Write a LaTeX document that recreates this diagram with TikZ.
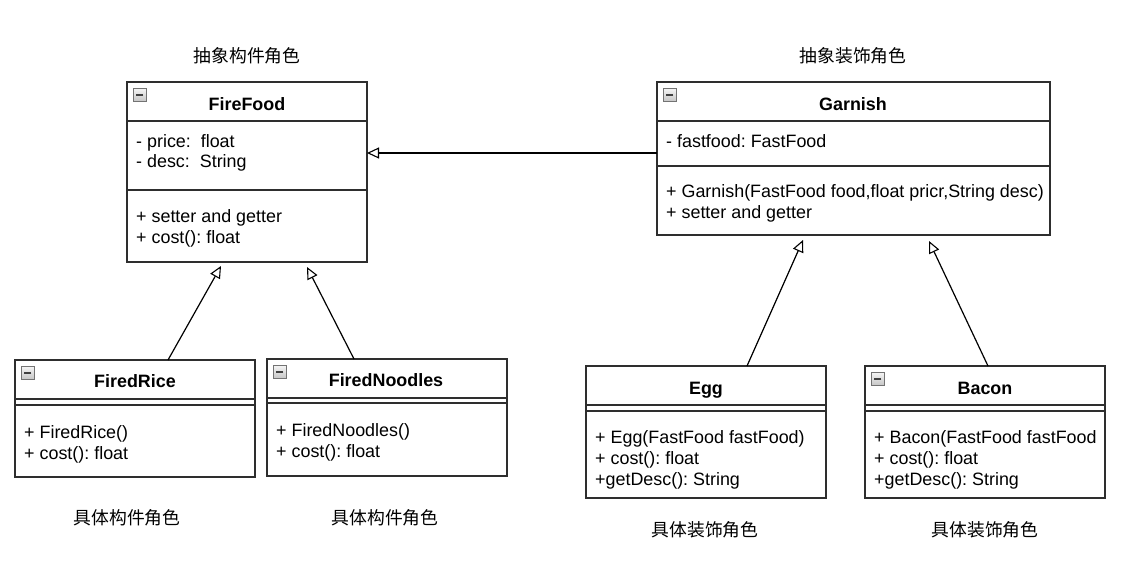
\documentclass[tikz,border=0pt]{standalone}
\usepackage{fontspec}
\setmainfont{Liberation Sans}
\newfontfamily\cjk{Noto Sans CJK SC}
\usetikzlibrary{arrows.meta}
\frenchspacing
\tikzset{
  cls/.style={draw=black!82, line width=1.3pt, anchor=north west, inner sep=0pt, outer sep=0pt},
  sepline/.style={draw=black!82, line width=1.3pt},
  txt/.style={anchor=base west, inner sep=0pt, font=\fontsize{17.9}{20}\selectfont},
  ttl/.style={anchor=base, inner sep=0pt, font=\fontsize{17.9}{20}\selectfont\bfseries},
  role/.style={inner sep=0pt, font=\cjk\fontsize{17.8}{20}\selectfont},
  inh/.style={draw=black, line width=1.2pt, -{Triangle[open, fill=white, length=12pt, width=11pt, line width=1.1pt]}},
  icon/.style={draw=black!55, line width=0.7pt, top color=gray!8, bottom color=gray!45, minimum size=13pt, inner sep=0pt, anchor=north west},
}
\newcommand{\collapseicon}[2]{%
  \node[icon] (#2) at #1 {};
  \draw[line width=1.6pt, black!75] ([xshift=3.5pt]#2.center) -- ([xshift=-3.5pt]#2.center);
}
\begin{document}
\begin{tikzpicture}[x=1pt, y=-1pt]
\useasboundingbox[fill=white] (0,0) rectangle (1132,574);

% ---------- FireFood ----------
\node[cls, minimum width=240pt, minimum height=180pt] (ff) at (127,82) {};
\draw[sepline] (ff.west |- 0,121) -- (ff.east |- 0,121);
\draw[sepline] (ff.west |- 0,190) -- (ff.east |- 0,190);
\collapseicon{(133,88)}{ffi}
\node[ttl] (fft) at (247,110) {FireFood};
\node[txt] (ff1) at (136,147) {- price:\ \ float};
\node[txt] (ff2) at (136,167) {- desc:\ \ String};
\node[txt] (ff3) at (136,222) {+ setter and getter};
\node[txt] (ff4) at (136,243) {+ cost(): float};
\node[role] (r1) at (247,56) {抽象构件角色};

% ---------- Garnish ----------
\node[cls, minimum width=393pt, minimum height=153pt] (ga) at (657,82) {};
\draw[sepline] (ga.west |- 0,121) -- (ga.east |- 0,121);
\draw[sepline] (ga.west |- 0,166) -- (ga.east |- 0,166);
\collapseicon{(663,88)}{gai}
\node[ttl] (gat) at (853,110) {Garnish};
\node[txt] (ga1) at (666,147) {- fastfood: FastFood};
\node[txt] (ga2) at (666,197) {+ Garnish(FastFood food,float pricr,String desc)};
\node[txt] (ga3) at (666,218) {+ setter and getter};
\node[role] (r2) at (853,56) {抽象装饰角色};

% ---------- FiredRice ----------
\node[cls, minimum width=240pt, minimum height=117pt] (fr) at (15,360) {};
\draw[sepline] (fr.west |- 0,399) -- (fr.east |- 0,399);
\draw[sepline] (fr.west |- 0,405) -- (fr.east |- 0,405);
\collapseicon{(21,366)}{fri}
\node[ttl] (frt) at (135,387) {FiredRice};
\node[txt] (fr1) at (24,438) {+ FiredRice()};
\node[txt] (fr2) at (24,459) {+ cost(): float};
\node[role] (r3) at (127,518) {具体构件角色};

% ---------- FiredNoodles ----------
\node[cls, minimum width=240pt, minimum height=117pt] (fn) at (267,359) {};
\draw[sepline] (fn.west |- 0,398) -- (fn.east |- 0,398);
\draw[sepline] (fn.west |- 0,403) -- (fn.east |- 0,403);
\collapseicon{(273,365)}{fni}
\node[ttl] (fnt) at (386,386) {FiredNoodles};
\node[txt] (fn1) at (276,436) {+ FiredNoodles()};
\node[txt] (fn2) at (276,457) {+ cost(): float};
\node[role] (r4) at (385,518) {具体构件角色};

% ---------- Egg ----------
\node[cls, minimum width=240pt, minimum height=132pt] (eg) at (586,366) {};
\draw[sepline] (eg.west |- 0,405) -- (eg.east |- 0,405);
\draw[sepline] (eg.west |- 0,411) -- (eg.east |- 0,411);
\node[ttl] (egt) at (706,394) {Egg};
\node[txt] (eg1) at (595,443) {+ Egg(FastFood fastFood)};
\node[txt] (eg2) at (595,464) {+ cost(): float};
\node[txt] (eg3) at (595,485) {+getDesc(): String};
\node[role] (r5) at (705,530) {具体装饰角色};

% ---------- Bacon ----------
\node[cls, minimum width=240pt, minimum height=132pt] (ba) at (865,366) {};
\draw[sepline] (ba.west |- 0,405) -- (ba.east |- 0,405);
\draw[sepline] (ba.west |- 0,411) -- (ba.east |- 0,411);
\collapseicon{(871,372)}{bai}
\node[ttl] (bat) at (985,394) {Bacon};
\node[txt] (ba1) at (874,443) {+ Bacon(FastFood fastFood};
\node[txt] (ba2) at (874,464) {+ cost(): float};
\node[txt] (ba3) at (874,485) {+getDesc(): String};
\node[role] (r6) at (985,530) {具体装饰角色};

% ---------- connectors ----------
\draw[inh] (ga.west |- 0,153) -- (ff.east |- 0,153);
\draw[inh] ([xshift=153pt]fr.north west) -- ([xshift=94pt,yshift=-4pt]ff.south west);
\draw[inh] ([xshift=87pt]fn.north west) -- ([xshift=180pt,yshift=-5pt]ff.south west);
\draw[inh] ([xshift=161pt]eg.north west) -- ([xshift=146pt,yshift=-5pt]ga.south west);
\draw[inh] ([xshift=123pt]ba.north west) -- ([xshift=272pt,yshift=-6pt]ga.south west);
\end{tikzpicture}
\end{document}
